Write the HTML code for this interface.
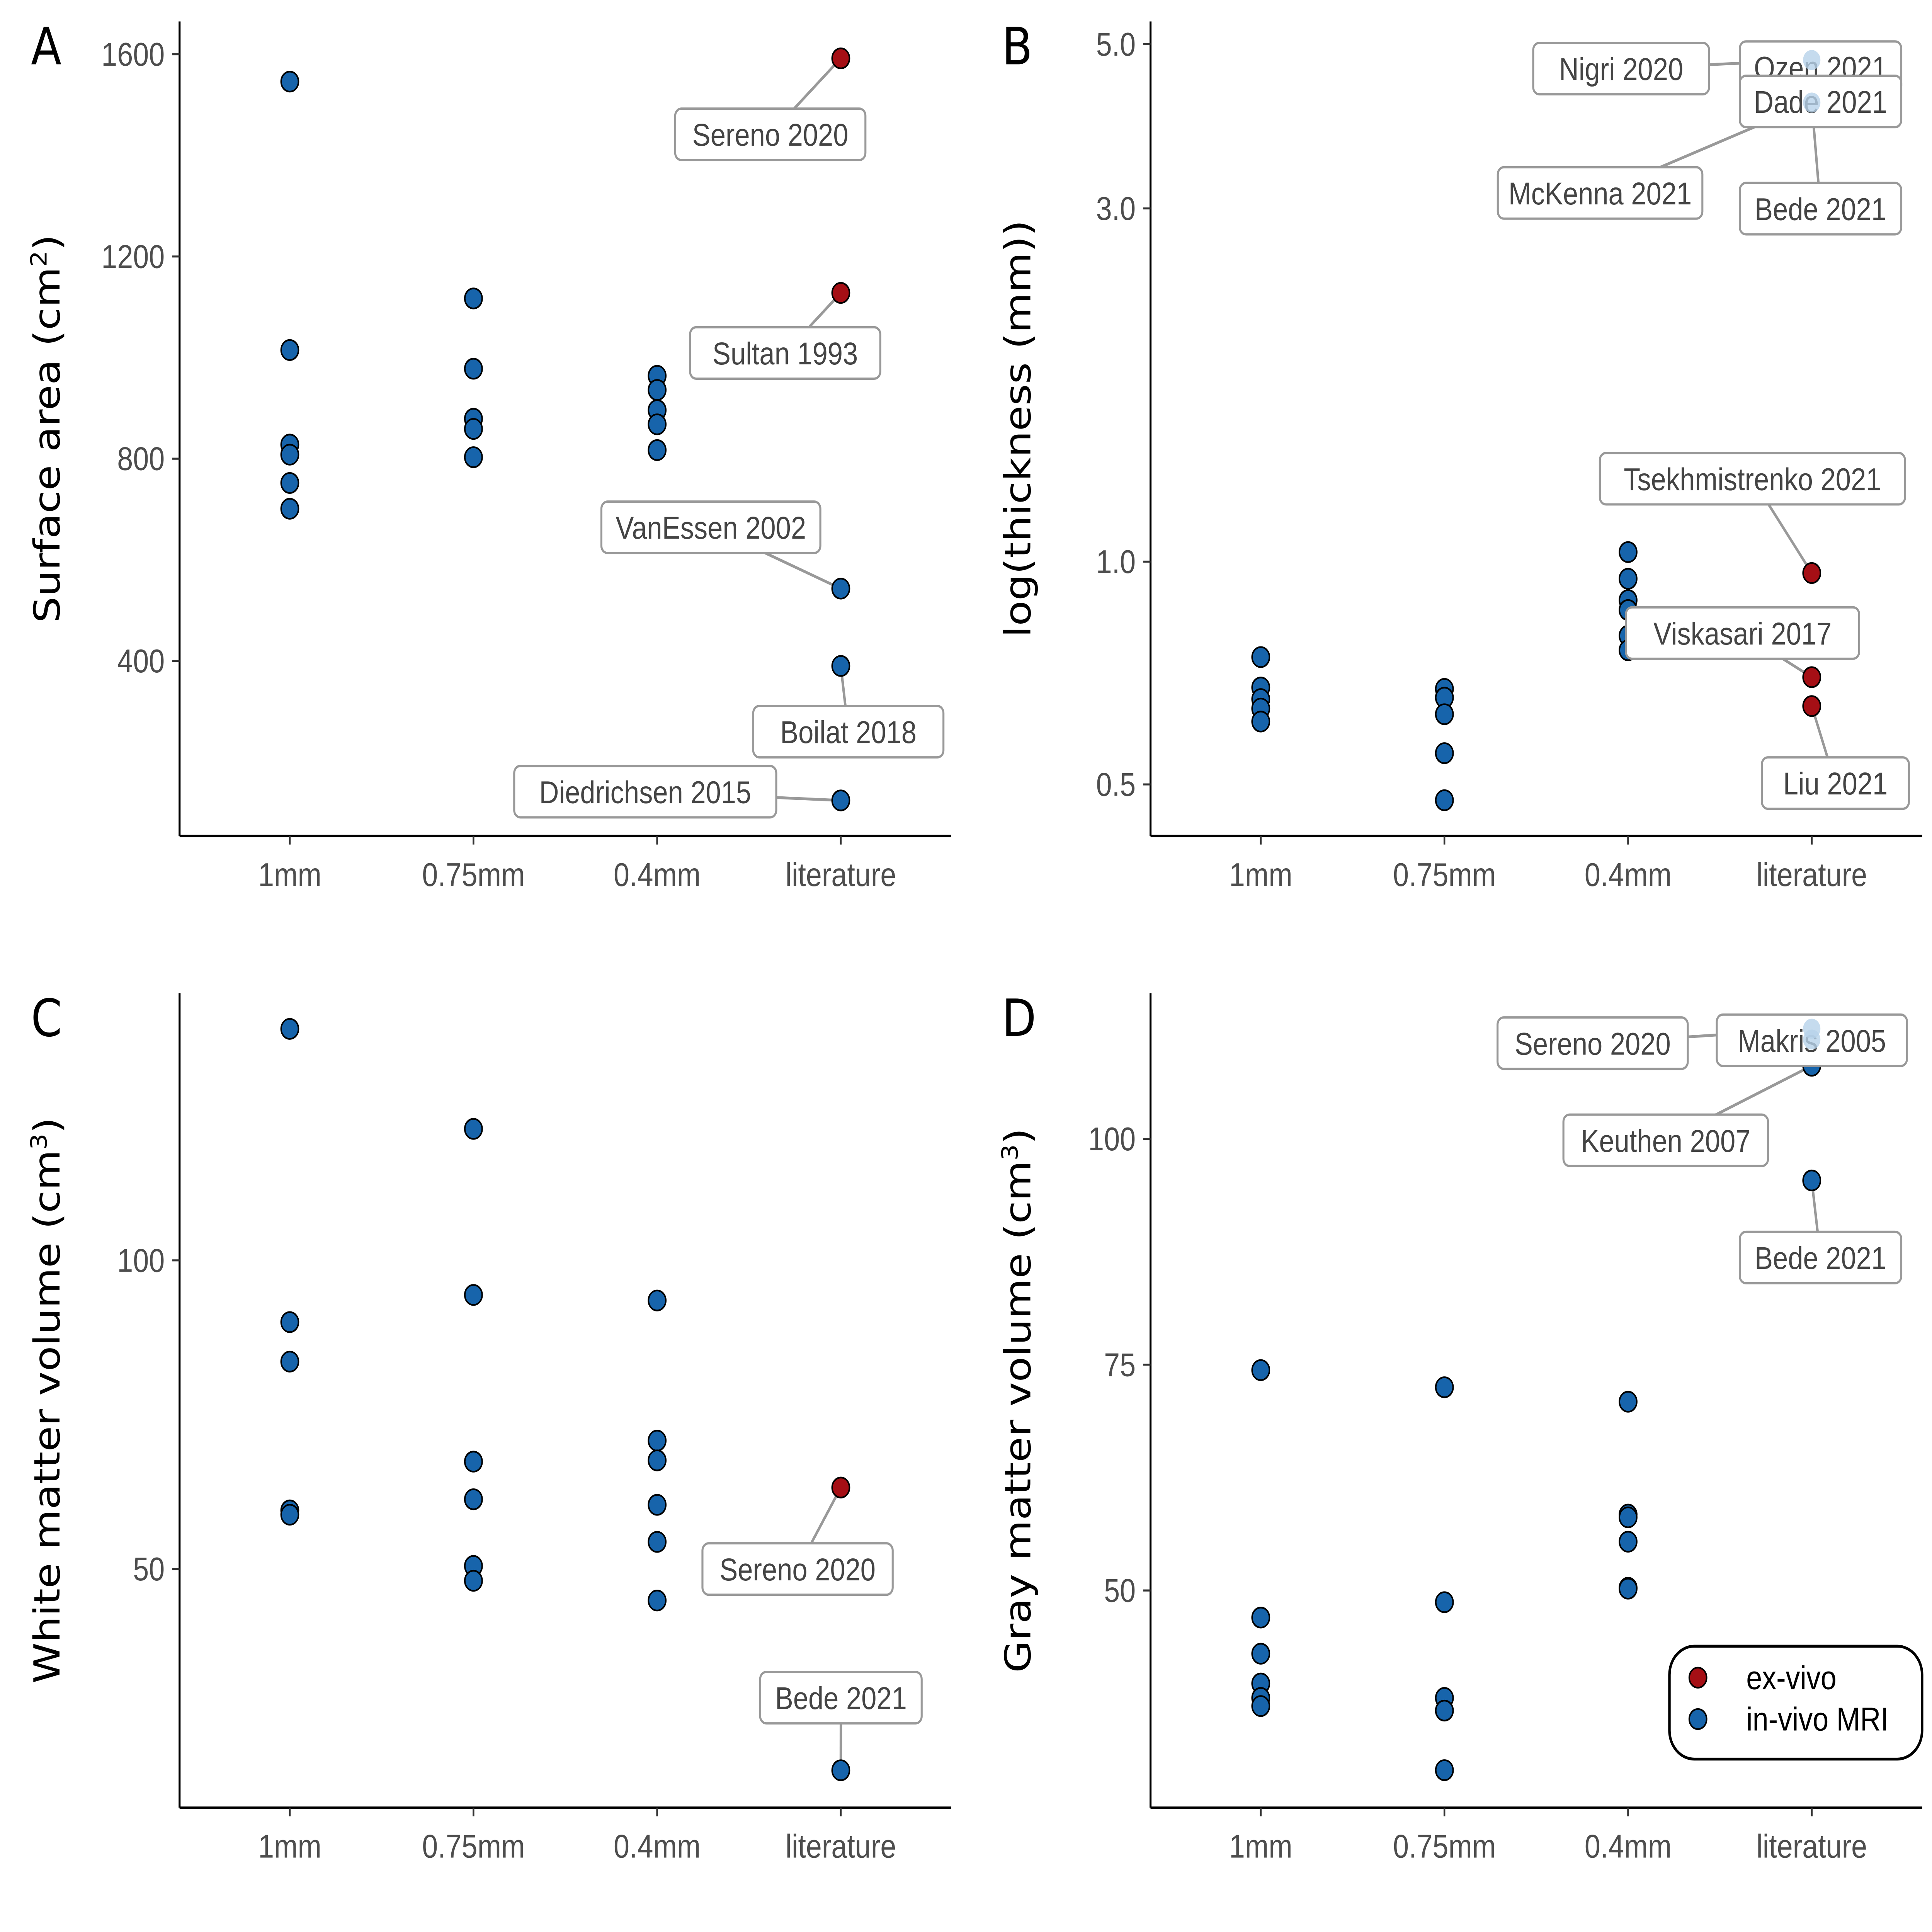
<!DOCTYPE html>
<html><head><meta charset="utf-8"><style>
html,body{margin:0;padding:0;background:#fff;width:100%;height:100%;overflow:hidden;}
svg{display:block;width:100vw;height:100vh;}
</style></head><body>
<svg id="chart" xmlns="http://www.w3.org/2000/svg" viewBox="0 0 1560 1352" preserveAspectRatio="none">
<rect width="1560" height="1352" fill="#fff"/>
</svg>
<script>
const categories = ["1mm","0.75mm","0.4mm","literature"];
// Panel A: surface area
const aTicks = [400,800,1200,1600];
const aBlue = [[0,1546],[0,1015],[0,828],[0,808],[0,752],[0,701],
 [1,1117],[1,978],[1,879],[1,859],[1,803],
 [2,964],[2,936],[2,896],[2,868],[2,817],
 [3,543],[3,390],[3,124]];
const aRed = [[3,1592],[3,1128]];
const aPale = [];
const aLabels = [["Sereno 2020",622,94,3,1592],["Sultan 1993",634,247,3,1128],["VanEssen 2002",574,369,3,543],["Boilat 2018",685,512,3,390],["Diedrichsen 2015",521,554,3,124]];
// Panel B: thickness (log)
const bTicks = [0.5,1.0,3.0,5.0];
const bTickText = ["0.5","1.0","3.0","5.0"];
const bBlue = [[0,0.743],[0,0.676],[0,0.652],[0,0.633],[0,0.608],
 [1,0.673],[1,0.655],[1,0.622],[1,0.551],[1,0.476],
 [2,1.03],[2,0.948],[2,0.887],[2,0.86],[2,0.794],[2,0.759]];
const bRed = [[3,0.965],[3,0.698],[3,0.638]];
const bPale = [[3,4.76],[3,4.17]];
const bLabels = [["Nigri 2020",1309,48,3,4.76],["Ozen 2021",1470,47,3,4.76],["Dade 2021",1470,71,3,4.17],["McKenna 2021",1292,135,3,4.17],["Bede 2021",1470,146,3,4.17],["Tsekhmistrenko 2021",1415,335,3,0.965],["Viskasari 2017",1407,443,3,0.698],["Liu 2021",1482,548,3,0.638]];
// Panel C: white matter
const cTicks = [50,100];
const cBlue = [[0,137.5],[0,90],[0,83.6],[0,59.5],[0,58.8],
 [1,121.3],[1,94.4],[1,67.4],[1,61.3],[1,50.5],[1,48.1],
 [2,93.5],[2,70.8],[2,67.6],[2,60.4],[2,54.4],[2,44.9],
 [3,17.4]];
const cRed = [[3,63.2]];
const cLabels = [["Sereno 2020",644,1098,3,63.2],["Bede 2021",679,1188,3,17.4]];
// Panel D: gray matter
const dTicks = [50,75,100];
const dBlue = [[0,74.4],[0,47.0],[0,43.0],[0,39.7],[0,38.1],[0,37.2],
 [1,72.5],[1,48.7],[1,38.1],[1,36.7],[1,30.1],
 [2,70.9],[2,58.4],[2,58.1],[2,55.4],[2,50.3],[2,50.2],
 [3,108.1],[3,95.4]];
const dPale = [[3,112.2],[3,111]];
const dLabels = [["Sereno 2020",1286,730,3,112.2],["Makris 2005",1463,728,3,112.2],["Keuthen 2007",1345,798,3,108.1],["Bede 2021",1470,880,3,95.4]];

const NS="http://www.w3.org/2000/svg";
const svg=document.getElementById('chart');
function mk(tag,attrs,parent){const e=document.createElementNS(NS,tag);for(const k in attrs)e.setAttribute(k,attrs[k]);(parent||svg).appendChild(e);return e;}

function panel(o){
  const g=mk('g',{});
  
  
  const catX=i=>o.x0+89+i*148.3;
  const y=o.y;
  const ax=mk('line',{x1:o.x0,y1:o.top,x2:o.x0,y2:o.bot,stroke:'#000','stroke-width':1.6},g);
  
  
  const bx=mk('line',{x1:o.x0,y1:o.bot,x2:o.x0+623,y2:o.bot,stroke:'#000','stroke-width':1.6},g);
  
  
  o.ticks.forEach((t,i)=>{
    const yy=y(t);
    mk('line',{x1:o.x0-6,y1:yy,x2:o.x0,y2:yy,stroke:'#333','stroke-width':1.4},g);
    const tx=mk('text',{x:o.x0-12,y:yy+8,'text-anchor':'end','font-family':'Liberation Sans, sans-serif','font-size':23,fill:'#4d4d4d'},g);
    tx.textContent=o.tickText?o.tickText[i]:String(t);
    
    
  });
  categories.forEach((c,i)=>{
    const xx=catX(i);
    mk('line',{x1:xx,y1:o.bot,x2:xx,y2:o.bot+6,stroke:'#333','stroke-width':1.4},g);
    const tx=mk('text',{x:xx,y:o.bot+35,'text-anchor':'middle','font-family':'Liberation Sans, sans-serif','font-size':23,fill:'#4d4d4d'},g);
    tx.textContent=c;
    
    
  });
  const cy=(o.top+o.bot)/2;
  const tt=mk('text',{x:0,y:0,transform:`translate(${o.x0-97},${cy}) rotate(-90)`,'text-anchor':'middle','font-family':'DejaVu Sans, sans-serif','font-size':29,fill:'#000'},g);
  tt.innerHTML=o.title;
  
  
  const pl=mk('text',{x:o.x0-120,y:o.top+30,'font-family':'DejaVu Sans, sans-serif','font-size':36,fill:'#000'},g);
  pl.textContent=o.letter;
  
  
  (o.labels||[]).forEach(l=>{
    mk('line',{x1:l[1],y1:l[2],x2:catX(l[3]),y2:y(l[4]),stroke:'#999','stroke-width':2},g);
  });
  const dot=(arr,fill,stroke,nm,op)=>arr.forEach(p=>{
    const c=mk('circle',{cx:catX(p[0]),cy:y(p[1]),r:7,fill:fill,stroke:stroke,'stroke-width':1.2,opacity:op||1},g);
    
    
  });
  dot(o.blue||[],'#1764ab','#000','point-in-vivo');
  dot(o.red||[],'#a50f15','#000','point-ex-vivo');
  (o.labels||[]).forEach(l=>{
    const w=l[0].length*11.6+26;
    const r=mk('rect',{x:l[1]-w/2,y:l[2]-18,width:w,height:36,rx:5,fill:'#fff',stroke:'#999','stroke-width':1.6},g);
    
    
    const t=mk('text',{x:l[1],y:l[2]+8,'text-anchor':'middle','font-family':'Liberation Sans, sans-serif','font-size':22,fill:'#444'},g);
    t.textContent=l[0];
    
    
  });
  dot(o.pale||[],'#b7d2ea','none','point-faded',0.8);
}
panel({name:'panel-a',letter:'A',x0:145,top:15,bot:585,ticks:aTicks,y:v=>38+(1600-v)/400*141.5,
  title:'Surface area (cm<tspan baseline-shift="super" font-size="18">2</tspan>)',blue:aBlue,red:aRed,pale:aPale,labels:aLabels});
panel({name:'panel-b',letter:'B',x0:929,top:15,bot:585,ticks:bTicks,tickText:bTickText,y:v=>393-Math.log10(v)*518,
  title:'log(thickness (mm))',blue:bBlue,red:bRed,pale:bPale,labels:bLabels});
panel({name:'panel-c',letter:'C',x0:145,top:695,bot:1265,ticks:cTicks,y:v=>882+(100-v)/50*216,
  title:'White matter volume (cm<tspan baseline-shift="super" font-size="18">3</tspan>)',blue:cBlue,red:cRed,labels:cLabels});
panel({name:'panel-d',letter:'D',x0:929,top:695,bot:1265,ticks:dTicks,y:v=>797+(100-v)/25*158,
  title:'Gray matter volume (cm<tspan baseline-shift="super" font-size="18">3</tspan>)',blue:dBlue,pale:dPale,labels:dLabels});

const lg=mk('g',{});


mk('rect',{x:1348,y:1152,width:204,height:79,rx:20,fill:'#fff',stroke:'#000','stroke-width':2},lg);
[['ex-vivo','#a50f15',1174],['in-vivo MRI','#1764ab',1203]].forEach(e=>{
  const c=mk('circle',{cx:1371,cy:e[2],r:7,fill:e[1],stroke:'#000','stroke-width':1.2},lg);
  
  
  const t=mk('text',{x:1410,y:e[2]+8,'font-family':'Liberation Sans, sans-serif','font-size':23,fill:'#000'},lg);
  t.textContent=e[0];
  
  
});
</script>
</body></html>
